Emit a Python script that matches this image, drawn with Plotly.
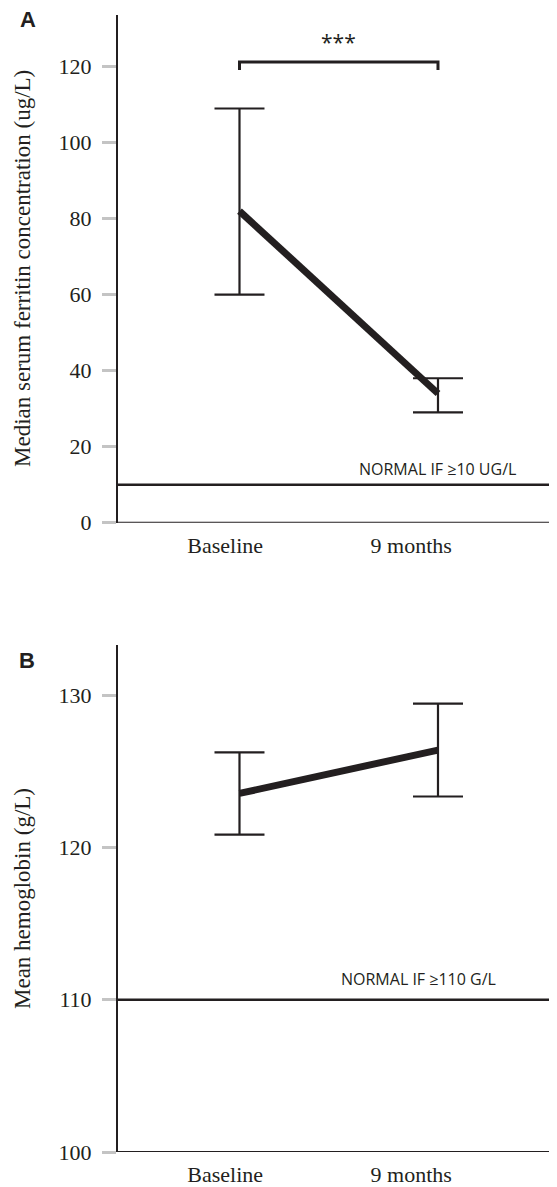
import plotly.graph_objects as go

categories = ["Baseline", "9 months"]

# Panel A: median serum ferritin (ug/L)
ferritin_median = [82, 34]
ferritin_upper = [109, 38]
ferritin_lower = [60, 29]
ferritin_normal = 10
bracket_low = 119.1
bracket_high = 121.2
sig_label = "***"

# Panel B: mean hemoglobin (g/L)
hb_mean = [123.55, 126.4]
hb_upper = [126.25, 129.45]
hb_lower = [120.85, 123.35]
hb_normal = 110

yticks_a = [0, 20, 40, 60, 80, 100, 120]
yticks_b = [100, 110, 120, 130]

INK = "#231f20"
SERIF = "Liberation Serif, Times New Roman, serif"
SANS = "Open Sans, Liberation Sans, sans-serif"

xpos = [i + 1 for i in range(len(categories))]
label_pos = [x - 0.072 if i == 0 else x - 0.135 for i, x in enumerate(xpos)]

fig = go.Figure()


def add_panel(fig, xa, ya, center, upper, lower):
    fig.add_trace(go.Scatter(
        x=xpos, y=center, mode="lines",
        line=dict(color=INK, width=7),
        error_y=dict(type="data", symmetric=False,
                     array=[u - c for u, c in zip(upper, center)],
                     arrayminus=[c - l for l, c in zip(lower, center)],
                     color=INK, thickness=2.2, width=25),
        xaxis=xa, yaxis=ya, showlegend=False, hoverinfo="skip"))


add_panel(fig, "x", "y", ferritin_median, ferritin_upper, ferritin_lower)
add_panel(fig, "x2", "y2", hb_mean, hb_upper, hb_lower)

# significance bracket
fig.add_trace(go.Scatter(
    x=[xpos[0], xpos[0], xpos[1], xpos[1]],
    y=[bracket_low, bracket_high, bracket_high, bracket_low],
    mode="lines", line=dict(color=INK, width=3),
    xaxis="x", yaxis="y", showlegend=False, hoverinfo="skip"))

xr = [0.388, 2.5995]

fig.add_shape(type="line", xref="x", yref="y", x0=xr[0], x1=xr[1],
              y0=ferritin_normal, y1=ferritin_normal,
              line=dict(color=INK, width=2.5))
fig.add_shape(type="line", xref="x2", yref="y2", x0=xr[0], x1=xr[1],
              y0=hb_normal, y1=hb_normal,
              line=dict(color=INK, width=2.5))

annotations = [
    dict(text="NORMAL IF ≥10 UG/L", xref="x", yref="y", x=2.403, y=14.1,
         xanchor="right", yanchor="middle", showarrow=False,
         font=dict(family=SANS, size=16, color=INK)),
    dict(text="NORMAL IF ≥110 G/L", xref="x2", yref="y2", x=2.302, y=111.35,
         xanchor="right", yanchor="middle", showarrow=False,
         font=dict(family=SANS, size=16, color=INK)),
    dict(text=sig_label, xref="x", yref="y", x=1.5, y=126.5,
         xanchor="center", yanchor="middle", showarrow=False,
         font=dict(family=SANS, size=21, color=INK)),
    dict(text="<b>A</b>", xref="paper", yref="paper", x=-0.205, y=(1152 - 20) / 1137,
         xanchor="center", yanchor="middle", showarrow=False,
         font=dict(family="Liberation Sans, Arial, sans-serif", size=22, color=INK)),
    dict(text="<b>B</b>", xref="paper", yref="paper", x=-0.207, y=(1152 - 660) / 1137,
         xanchor="center", yanchor="middle", showarrow=False,
         font=dict(family="Liberation Sans, Arial, sans-serif", size=22, color=INK)),
    dict(text="Median serum ferritin concentration (ug/L)", xref="paper", yref="paper",
         x=(22 - 118) / 439, y=(1152 - 269) / 1137, textangle=-90,
         xanchor="center", yanchor="middle", showarrow=False,
         font=dict(family=SERIF, size=23, color=INK)),
    dict(text="Mean hemoglobin (g/L)", xref="paper", yref="paper",
         x=(22 - 118) / 439, y=(1152 - 899) / 1137, textangle=-90,
         xanchor="center", yanchor="middle", showarrow=False,
         font=dict(family=SERIF, size=23, color=INK)),
]

xaxis_common = dict(range=xr, tickvals=label_pos, ticktext=categories,
                    showgrid=False, zeroline=False, showline=False,
                    ticks="", ticklabelstandoff=7,
                    tickfont=dict(family=SERIF, size=22, color=INK))
yaxis_common = dict(showgrid=False, zeroline=False, showline=True,
                    linecolor=INK, linewidth=2, ticks="outside", ticklen=14,
                    tickwidth=3, tickcolor="#c4c4c4", ticklabelstandoff=6,
                    tickfont=dict(family=SERIF, size=22, color=INK))

fig.update_layout(
    width=549, height=1179,
    margin=dict(l=110, r=0, t=7, b=35),
    paper_bgcolor="white", plot_bgcolor="white",
    xaxis=dict(anchor="y", domain=[0, 1], **xaxis_common),
    xaxis2=dict(anchor="y2", domain=[0, 1], **xaxis_common),
    yaxis=dict(anchor="x", domain=[0.5535, 1.0], range=[0, 133.6],
               tickvals=yticks_a, **yaxis_common),
    yaxis2=dict(anchor="x2", domain=[0.0, 0.4459], range=[100, 133.3],
                tickvals=yticks_b, **yaxis_common),
    annotations=annotations,
)

# bottom axis lines
fig.add_shape(type="line", xref="x", yref="y", x0=xr[0], x1=xr[1], y0=0, y1=0,
              line=dict(color=INK, width=2))
fig.add_shape(type="line", xref="x2", yref="y2", x0=xr[0], x1=xr[1], y0=100, y1=100,
              line=dict(color=INK, width=2))

fig.write_html("out.html")
